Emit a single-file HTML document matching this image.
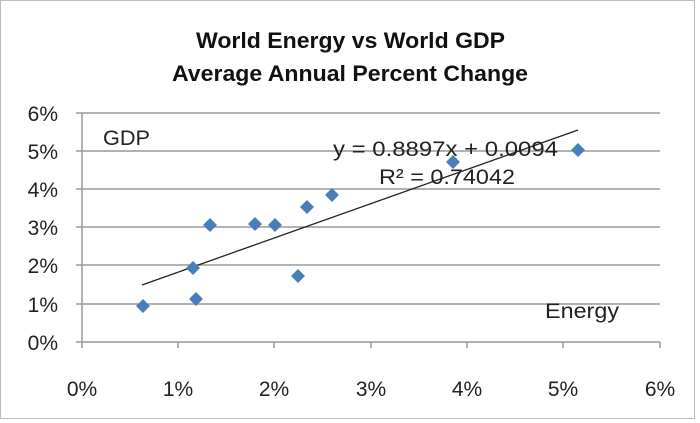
<!DOCTYPE html>
<html><head><style>body{margin:0;background:#fff}svg{display:block}</style></head><body>
<svg width="700" height="423" xmlns="http://www.w3.org/2000/svg" font-family="Liberation Sans, sans-serif">
<rect x="0.5" y="0.5" width="694" height="418" fill="#fff" stroke="#bcbcbc"/>
<text x="196" y="48" font-size="22" font-weight="bold" fill="#111" textLength="309" lengthAdjust="spacingAndGlyphs">World Energy vs World GDP</text>
<text x="172" y="81" font-size="22" font-weight="bold" fill="#111" textLength="356" lengthAdjust="spacingAndGlyphs">Average Annual Percent Change</text>
<g stroke="#999" stroke-width="1.5">
<line x1="76" y1="113" x2="660" y2="113"/><line x1="76" y1="151" x2="660" y2="151"/>
<line x1="76" y1="189" x2="660" y2="189"/><line x1="76" y1="227" x2="660" y2="227"/>
<line x1="76" y1="265" x2="660" y2="265"/><line x1="76" y1="304" x2="660" y2="304"/>
<line x1="76" y1="342" x2="660" y2="342"/><line x1="82" y1="113" x2="82" y2="348"/>
<line x1="178" y1="342" x2="178" y2="348"/><line x1="274" y1="342" x2="274" y2="348"/>
<line x1="371" y1="342" x2="371" y2="348"/><line x1="467" y1="342" x2="467" y2="348"/>
<line x1="563" y1="342" x2="563" y2="348"/><line x1="660" y1="342" x2="660" y2="348"/>
</g>
<g font-size="21" fill="#222" text-anchor="end">
<text x="58" y="121">6%</text><text x="58" y="159">5%</text><text x="58" y="197">4%</text>
<text x="58" y="235">3%</text><text x="58" y="273">2%</text><text x="58" y="312">1%</text><text x="58" y="350">0%</text>
</g>
<g font-size="21" fill="#222" text-anchor="middle">
<text x="82" y="396">0%</text><text x="178" y="396">1%</text><text x="274" y="396">2%</text>
<text x="371" y="396">3%</text><text x="467" y="396">4%</text><text x="563" y="396">5%</text><text x="660" y="396">6%</text>
</g>
<line x1="142" y1="285" x2="578" y2="130" stroke="#222" stroke-width="1.3"/>
<g fill="#4a7ebb">
<path d="M143 299l7 7-7 7-7-7z"/><path d="M193 261l7 7-7 7-7-7z"/><path d="M196 292l7 7-7 7-7-7z"/>
<path d="M210 218l7 7-7 7-7-7z"/><path d="M255 217l7 7-7 7-7-7z"/><path d="M275 218l7 7-7 7-7-7z"/>
<path d="M298 269l7 7-7 7-7-7z"/><path d="M307 200l7 7-7 7-7-7z"/><path d="M332 188l7 7-7 7-7-7z"/>
<path d="M453 155l7 7-7 7-7-7z"/><path d="M578 143l7 7-7 7-7-7z"/>
</g>
<g font-size="21" fill="#222">
<text x="103" y="145" textLength="47" lengthAdjust="spacingAndGlyphs">GDP</text>
<text x="333" y="156" textLength="225" lengthAdjust="spacingAndGlyphs">y = 0.8897x + 0.0094</text>
<text x="379" y="184" textLength="136" lengthAdjust="spacingAndGlyphs">R² = 0.74042</text>
<text x="545" y="318" textLength="74" lengthAdjust="spacingAndGlyphs">Energy</text>
</g>
</svg>
</body></html>
